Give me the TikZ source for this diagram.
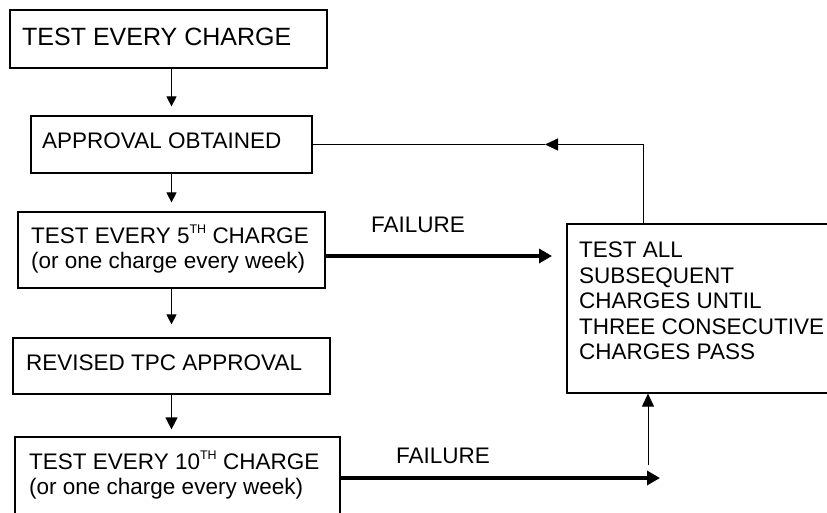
\documentclass[tikz,border=0pt]{standalone}
\usepackage{fontspec}
\setmainfont{Liberation Sans}
\usetikzlibrary{arrows.meta}
\newcommand{\mysupTH}{\raisebox{10pt}{\fontsize{12.5}{12.5}\selectfont TH}}
\begin{document}
\begin{tikzpicture}[x=1pt,y=-1pt,
  box/.style={draw,line width=1.2pt,inner sep=0pt},
  txt/.style={anchor=base west,inner sep=0pt,font=\fontsize{22.5}{25}\selectfont},
  bigtxt/.style={anchor=base west,inner sep=0pt,font=\fontsize{25}{28}\selectfont},
  thinarrow/.style={line width=1pt,-{Triangle[length=10pt,width=10pt]}},
  loopsarrow/.style={line width=1pt,-{Triangle[length=13pt,width=12pt]}},
  bigarrow/.style={line width=1.2pt,-{Triangle[length=12pt,width=12pt]}},
  failarrow/.style={line width=4pt,-{Triangle[length=13pt,width=14pt]}},
  thinline/.style={line width=1pt}
]
\useasboundingbox (0,0) rectangle (827,512);
\clip (0,0) rectangle (827,512);
\fill[white] (0,0) rectangle (827,512);

% boxes
\node[box,minimum width=317pt,minimum height=58pt] (b1) at (168.5,39) {};
\node[box,minimum width=281pt,minimum height=57pt] (b2) at (171.5,144.5) {};
\node[box,minimum width=307pt,minimum height=76pt] (b3) at (171.5,250) {};
\node[box,minimum width=317pt,minimum height=56pt] (b4) at (171.5,366) {};
\node[box,minimum width=325pt,minimum height=103pt] (b5) at (177.5,488.5) {};
\node[box,minimum width=273pt,minimum height=169pt] (rb) at (703.5,308.5) {};

% texts
\node[bigtxt] (t1) at (22,45) {TEST EVERY CHARGE};
\node[txt] (t2) at (42,148) {APPROVAL OBTAINED};
\node[txt] (t3a) at (31,243) {TEST EVERY 5\mysupTH\ CHARGE};
\node[txt] (t3b) at (31,268) {(or one charge every week)};
\node[txt] (t4) at (26,370) {REVISED TPC APPROVAL};
\node[txt] (t5a) at (29,469) {TEST EVERY 10\mysupTH\ CHARGE};
\node[txt] (t5b) at (29,494) {(or one charge every week)};
\node[txt] (r1) at (579,257) {TEST ALL};
\node[txt] (r2) at (579,283) {SUBSEQUENT};
\node[txt] (r3) at (579,308.5) {CHARGES UNTIL};
\node[txt] (r4) at (579,334) {THREE CONSECUTIVE};
\node[txt] (r5) at (579,359.5) {CHARGES PASS};
\node[txt] (f1lab) at (371,232) {FAILURE};
\node[txt] (f2lab) at (396,463) {FAILURE};

% vertical flow arrows
\draw[thinarrow,shorten >=9pt] (b1.south -| b2.north) -- (b2.north);
\draw[thinarrow,shorten >=9pt] (b2.south) -- (b3.north);
\draw[thinarrow,shorten >=13pt] (b3.south) -- (b4.north);
\draw[bigarrow,shorten >=7pt] (b4.south) -- (b4.south |- b5.north);

% feedback to approval
\coordinate (fb) at (545,144.5);
\coordinate (up) at (643,224);
\draw[thinline] (b2.east) -- (fb);
\draw[loopsarrow] (up |- rb.north) |- (fb);

% failure arrows
\coordinate (f1) at (552,256);
\draw[failarrow] (f1 -| b3.east) -- (f1);
\coordinate (f2) at (660,478);
\draw[failarrow] (f2 -| b5.east) -- (f2);
\coordinate (v) at (648,465);
\draw[loopsarrow] (v) -- (v |- rb.south);
\end{tikzpicture}
\end{document}
